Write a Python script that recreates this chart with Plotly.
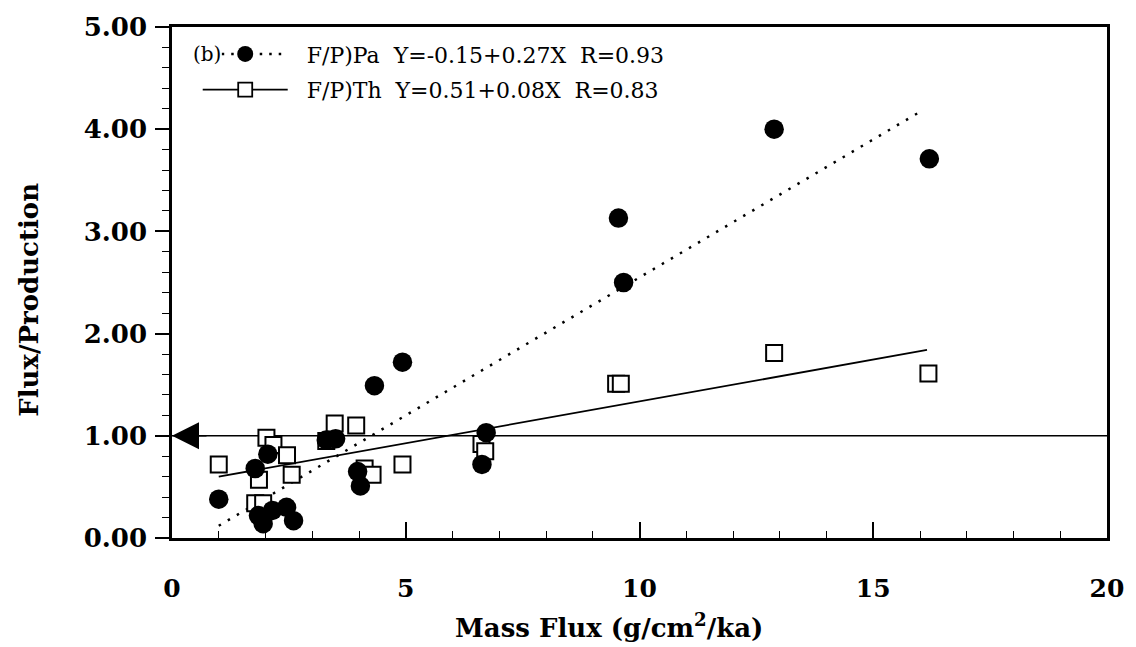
import plotly.graph_objects as go

# ---- data ----
pa_x = [1.0, 1.78, 2.05, 1.85, 1.95, 2.15, 2.45, 2.6, 3.3, 3.5, 3.97, 4.03, 4.33, 4.93, 6.72, 6.63, 9.55, 9.66, 12.88, 16.2]
pa_y = [0.38, 0.68, 0.82, 0.22, 0.14, 0.27, 0.30, 0.17, 0.96, 0.97, 0.65, 0.51, 1.49, 1.72, 1.03, 0.72, 3.13, 2.50, 4.00, 3.71]
th_x = [1.0, 1.86, 2.02, 2.17, 2.46, 2.56, 1.78, 1.95, 3.3, 3.48, 3.94, 4.12, 4.29, 4.93, 6.62, 6.7, 9.5, 9.6, 12.88, 16.18]
th_y = [0.72, 0.57, 0.98, 0.91, 0.81, 0.62, 0.34, 0.34, 0.95, 1.12, 1.10, 0.68, 0.62, 0.72, 0.92, 0.85, 1.51, 1.51, 1.81, 1.61]

pa_fit_x = [1.0, 16.0]
pa_fit_y = [0.12, 4.17]
th_fit_x = [1.0, 16.15]
th_fit_y = [0.60, 1.84]

ref_level = 1.0
x_range = [0, 20]
y_range = [0, 5]

NB = "\u00a0"
pa_label = NB * 2 + "F/P)Pa" + NB * 2 + "Y=-0.15+0.27X" + NB * 2 + "R=0.93"
th_label = NB * 2 + "F/P)Th" + NB * 2 + "Y=0.51+0.08X" + NB * 2 + "R=0.83"
panel_label = "(b)"
x_title = "Mass Flux (g/cm<sup>2</sup>/ka)"
y_title = "Flux/Production"

FONT = "DejaVu Serif"

fig = go.Figure()

# reference line at F/P = 1
fig.add_trace(go.Scatter(x=x_range, y=[ref_level, ref_level], mode="lines",
                         line=dict(color="black", width=1.5), showlegend=False, hoverinfo="skip"))

# regression lines
fig.add_trace(go.Scatter(x=th_fit_x, y=th_fit_y, mode="lines",
                         line=dict(color="black", width=1.8), showlegend=False))
fig.add_trace(go.Scatter(x=pa_fit_x, y=pa_fit_y, mode="lines",
                         line=dict(color="black", width=2.5, dash="2.5px,8px"), showlegend=False))

# data points
fig.add_trace(go.Scatter(x=th_x, y=th_y, mode="markers", showlegend=False,
                         marker=dict(symbol="square", size=16, color="white",
                                     line=dict(color="black", width=2))))
fig.add_trace(go.Scatter(x=pa_x, y=pa_y, mode="markers", showlegend=False,
                         marker=dict(symbol="circle", size=19.5, color="black",
                                     line=dict(color="black", width=0))))

# legend entries
fig.add_trace(go.Scatter(x=[None], y=[None], mode="lines+markers", name=pa_label,
                         legendgroup="pa",
                         line=dict(color="black", width=2.5, dash="2.5px,7px"),
                         marker=dict(symbol="circle", size=16, color="black")))
fig.add_trace(go.Scatter(x=[None], y=[None], mode="lines+markers", name=th_label,
                         legendgroup="th",
                         line=dict(color="black", width=1.8),
                         marker=dict(symbol="square", size=14, color="white",
                                     line=dict(color="black", width=1.8))))

fig.update_layout(
    width=1136, height=647,
    margin=dict(l=172, r=19, t=20, b=109),
    paper_bgcolor="white", plot_bgcolor="white",
    font=dict(family=FONT, color="black"),
    showlegend=True,
    legend=dict(x=0.0275, y=0.988, xanchor="left", yanchor="top",
                bgcolor="rgba(0,0,0,0)", borderwidth=0,
                font=dict(family=FONT, size=22, color="black"),
                itemwidth=85, tracegroupgap=4),
    xaxis=dict(range=x_range, dtick=5, tick0=0, showgrid=False, zeroline=False,
               showline=True, linecolor="black", linewidth=2.5, mirror=True,
               ticks="inside", ticklen=16, tickwidth=1.5, tickcolor="black",
               ticklabelstandoff=26,
               tickfont=dict(family=FONT, size=25, weight="bold"),
               minor=dict(dtick=1, ticks="inside", ticklen=7, tickwidth=1.2, tickcolor="black")),
    yaxis=dict(range=y_range, dtick=1, tick0=0, tickformat=".2f", showgrid=False, zeroline=False,
               showline=True, linecolor="black", linewidth=2.5, mirror=True,
               ticks="outside", ticklen=14, tickwidth=1.5, tickcolor="black",
               ticklabelstandoff=3,
               tickfont=dict(family=FONT, size=26, weight="bold"),
               minor=dict(dtick=0.2, ticks="outside", ticklen=7, tickwidth=1.2, tickcolor="black")),
    annotations=[
        dict(text=panel_label, xref="paper", yref="paper", x=0.021, y=0.947,
             xanchor="left", yanchor="middle", showarrow=False, bgcolor="white",
             borderpad=0,
             font=dict(family=FONT, size=20, color="black")),
        dict(text="<b>" + x_title + "</b>", xref="paper", yref="paper", x=0.467, y=-0.172,
             xanchor="center", yanchor="middle", showarrow=False,
             font=dict(family=FONT, size=26, color="black")),
        dict(text="<b>" + y_title + "</b>", xref="paper", yref="paper", x=-0.153, y=0.466,
             xanchor="center", yanchor="middle", showarrow=False, textangle=-90,
             font=dict(family=FONT, size=26, color="black")),
        dict(x=0, y=ref_level, xref="x", yref="y", ax=36, ay=0, axref="pixel", ayref="pixel",
             showarrow=True, arrowhead=2, arrowsize=3.6, arrowwidth=1.5, arrowcolor="black",
             standoff=0, text=""),
    ],
)

fig.write_html("out.html")
